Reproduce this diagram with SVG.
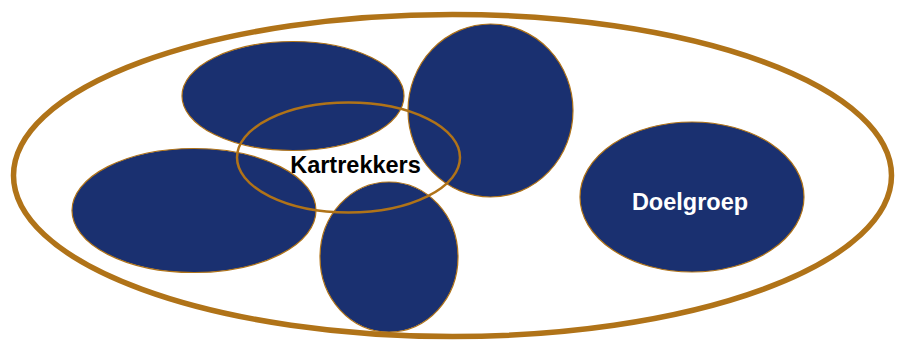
<svg xmlns="http://www.w3.org/2000/svg" width="897" height="343" viewBox="0 0 897 343">
<style>
.blob{fill:#1A3070;stroke:#B07318;stroke-width:1.2}
.ring{fill:none;stroke:#B07318}
.lbl{font-family:"Liberation Sans",Arial,sans-serif;font-weight:bold;font-size:23.5px;text-anchor:middle}
</style>
<rect width="897" height="343" fill="#fff"/>
<g id="outer"><ellipse class="ring" cx="452.5" cy="175.5" rx="439" ry="161" stroke-width="5.5"/></g>
<g id="top-left"><ellipse class="blob" cx="293" cy="96" rx="111" ry="54.5"/></g>
<g id="left"><ellipse class="blob" cx="194" cy="210.5" rx="122" ry="62"/></g>
<g id="bottom"><ellipse class="blob" cx="389" cy="257" rx="69" ry="75"/></g>
<g id="top-right"><ellipse class="blob" cx="490.5" cy="110.5" rx="82.5" ry="86.5"/></g>
<g id="doelgroep"><ellipse class="blob" cx="692" cy="197" rx="112" ry="75"/><text class="lbl" x="690" y="210" fill="#fff">Doelgroep</text></g>
<g id="kartrekkers"><ellipse class="ring" cx="348.5" cy="157.5" rx="111.5" ry="55" stroke-width="2.5"/><text class="lbl" x="355.5" y="172.5" fill="#000">Kartrekkers</text></g>
<g id="connectors"/>
</svg>
